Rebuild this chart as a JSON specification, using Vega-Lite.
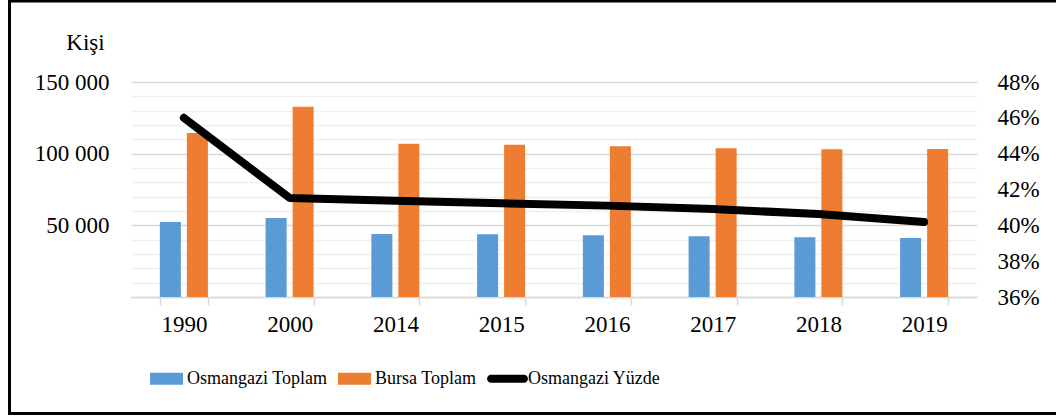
{
  "$schema": "https://vega.github.io/schema/vega-lite/v6.json",
  "width": 846,
  "height": 215,
  "autosize": "none",
  "padding": {"left": 131, "top": 82, "right": 79, "bottom": 119},
  "background": "white",
  "config": {
    "view": {"stroke": null},
    "font": "Liberation Serif",
    "axis": {"labelFont": "Liberation Serif", "labelColor": "black", "titleFont": "Liberation Serif", "titleColor": "black"},
    "legend": {"labelFont": "Liberation Serif", "labelColor": "black"}
  },
  "datasets": {
    "bars": [
      {"year": "1990", "series": "Osmangazi Toplam", "value": 52300},
      {"year": "1990", "series": "Bursa Toplam", "value": 114400},
      {"year": "2000", "series": "Osmangazi Toplam", "value": 55100},
      {"year": "2000", "series": "Bursa Toplam", "value": 132800},
      {"year": "2014", "series": "Osmangazi Toplam", "value": 43950},
      {"year": "2014", "series": "Bursa Toplam", "value": 107000},
      {"year": "2015", "series": "Osmangazi Toplam", "value": 43700},
      {"year": "2015", "series": "Bursa Toplam", "value": 106300},
      {"year": "2016", "series": "Osmangazi Toplam", "value": 43000},
      {"year": "2016", "series": "Bursa Toplam", "value": 105100},
      {"year": "2017", "series": "Osmangazi Toplam", "value": 42300},
      {"year": "2017", "series": "Bursa Toplam", "value": 103700},
      {"year": "2018", "series": "Osmangazi Toplam", "value": 41600},
      {"year": "2018", "series": "Bursa Toplam", "value": 103000},
      {"year": "2019", "series": "Osmangazi Toplam", "value": 41200},
      {"year": "2019", "series": "Bursa Toplam", "value": 103250}
    ],
    "pct": [
      {"year": "1990", "pct": 0.4600},
      {"year": "2000", "pct": 0.4153},
      {"year": "2014", "pct": 0.4137},
      {"year": "2015", "pct": 0.4123},
      {"year": "2016", "pct": 0.4110},
      {"year": "2017", "pct": 0.4091},
      {"year": "2018", "pct": 0.4063},
      {"year": "2019", "pct": 0.4019}
    ]
  },
  "layer": [
    {
      "data": {"name": "bars"},
      "mark": {"type": "bar", "strokeWidth": 0},
      "encoding": {
        "x": {
          "field": "year", "type": "nominal",
          "scale": {"paddingInner": 0.546, "paddingOuter": 0.273},
          "axis": {
            "title": null, "labelAngle": 0, "labelFont": "Liberation Serif", "labelFontSize": 23, "labelPadding": 8,
            "domainColor": "#d9d9d9", "domainWidth": 1.5, "tickColor": "#d9d9d9", "tickWidth": 1.5,
            "tickSize": 8, "tickBand": "extent", "grid": false
          }
        },
        "xOffset": {
          "field": "series", "type": "nominal",
          "scale": {"domain": ["Osmangazi Toplam", "Bursa Toplam"], "paddingInner": 0.222, "paddingOuter": 0}
        },
        "y": {
          "field": "value", "type": "quantitative",
          "scale": {"domain": [0, 150000], "nice": false},
          "axis": {
            "values": [0, 10000, 20000, 30000, 40000, 50000, 60000, 70000, 80000, 90000, 100000, 110000, 120000, 130000, 140000, 150000],
            "grid": true,
            "gridColor": {"condition": {"test": "datum.value % 50000 === 0", "value": "#d9d9d9"}, "value": "#efefef"},
            "gridWidth": 1.5,
            "domain": false, "ticks": false,
            "labelPadding": 22, "labelFont": "Liberation Serif", "labelFontSize": 23,
            "labelExpr": "datum.value > 0 && datum.value % 50000 === 0 ? replace(format(datum.value, ','), ',', ' ') : ''",
            "title": "Kişi", "titleAngle": 0, "titleX": -46, "titleY": -33, "titleFont": "Liberation Serif",
            "titleFontSize": 23, "titleFontWeight": "normal", "titleAlign": "center", "titleBaseline": "alphabetic"
          }
        },
        "color": {
          "field": "series", "type": "nominal",
          "scale": {"domain": ["Osmangazi Toplam", "Bursa Toplam", "Osmangazi Yüzde"], "range": ["#5B9BD5", "#ED7D31", "#000000"]},
          "legend": {
            "title": null, "orient": "none", "legendX": 19, "legendY": 280, "direction": "horizontal",
            "labelFont": "Liberation Serif", "labelFontSize": 18, "labelOffset": 4, "columnPadding": 10, "labelLimit": 300,
            "symbolType": "M-1,-0.364L1,-0.364L1,0.364L-1,0.364Z",
            "symbolSize": 1089, "symbolStrokeWidth": 0, "symbolOpacity": 1,
            "encode": {
              "symbols": {
                "update": {
                  "shape": {"signal": "datum.value === 'Osmangazi Yüzde' ? 'M-1,-0.24L1,-0.24A0.24,0.24 0 0 1 1,0.24L-1,0.24A0.24,0.24 0 0 1 -1,-0.24Z' : 'M-1,-0.364L1,-0.364L1,0.364L-1,0.364Z'"},
                  "fill": {"signal": "datum.value === 'Osmangazi Yüzde' ? '#000000' : (datum.value === 'Bursa Toplam' ? '#ED7D31' : '#5B9BD5')"}
                }
              }
            }
          }
        },
        "stroke": {
          "field": "value", "type": "quantitative",
          "scale": {"range": ["rgba(255,255,255,0)", "rgba(255,255,255,0)"]},
          "legend": {
            "title": null, "orient": "none", "legendX": -121.5, "legendY": -81, "direction": "horizontal",
            "gradientLength": 1060, "gradientThickness": 412.5,
            "gradientStrokeColor": "#000000", "gradientStrokeWidth": 3,
            "labelExpr": "''", "labelOpacity": 0, "labelFontSize": 1, "padding": 0
          }
        }
      }
    },
    {
      "data": {"name": "pct"},
      "mark": {"type": "line", "strokeWidth": 8, "strokeCap": "round", "strokeJoin": "round"},
      "encoding": {
        "x": {"field": "year", "type": "nominal"},
        "y": {
          "field": "pct", "type": "quantitative",
          "scale": {"domain": [0.36, 0.48], "nice": false, "zero": false},
          "axis": {
            "orient": "right", "values": [0.36, 0.38, 0.40, 0.42, 0.44, 0.46, 0.48], "format": ".0%",
            "grid": false, "domain": false, "ticks": false, "labelPadding": 20,
            "labelFont": "Liberation Serif", "labelFontSize": 23, "title": null
          }
        },
        "color": {"datum": "Osmangazi Yüzde"}
      }
    }
  ],
  "resolve": {"scale": {"y": "independent"}}
}
